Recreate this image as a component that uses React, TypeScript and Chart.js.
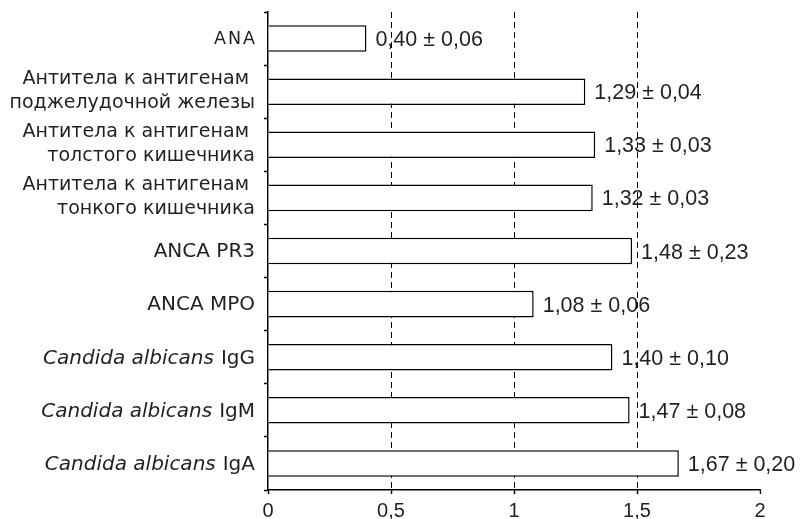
import React, { useEffect, useRef } from 'react';
import { Chart, registerables } from 'chart.js';

Chart.register(...registerables);

const categories: string[][] = [
  ['ANA'],
  ['Антитела к антигенам ', 'поджелудочной железы'],
  ['Антитела к антигенам ', 'толстого кишечника'],
  ['Антитела к антигенам ', 'тонкого кишечника'],
  ['ANCA PR3'],
  ['ANCA MPO'],
  ['Candida albicans IgG'],
  ['Candida albicans IgM'],
  ['Candida albicans IgA'],
];
const values = [0.4, 1.29, 1.33, 1.32, 1.48, 1.08, 1.4, 1.47, 1.67];
const errors = [0.06, 0.04, 0.03, 0.03, 0.23, 0.06, 0.1, 0.08, 0.2];
const xMin = 0;
const xMax = 2;
const xStep = 0.5;
const dashedAt = [0.5, 1, 1.5];
const italicPrefix = 'Candida albicans';

const TEXT = '#231f20';
const SANS = '"Liberation Sans", Arial, sans-serif';
const WIDE = '"DejaVu Sans", sans-serif';
const fmt = (n: number) => n.toFixed(2).replace('.', ',');

const labelPlugin = {
  id: 'customLabels',
  afterDatasetsDraw(chart: any) {
    const ctx = chart.ctx as CanvasRenderingContext2D;
    const ys = chart.scales.y;
    const xs = chart.scales.x;
    ctx.save();
    ctx.fillStyle = TEXT;
    ctx.textBaseline = 'alphabetic';

    // value labels
    ctx.font = `21.5px ${SANS}`;
    ctx.textAlign = 'left';
    values.forEach((v, i) => {
      const cy = ys.getPixelForValue(i);
      const xe = xs.getPixelForValue(v);
      ctx.fillText(`${fmt(v)} ± ${fmt(errors[i])}`, xe + 9, cy + 7.5);
    });

    // category labels
    const right = ys.right - 13;
    categories.forEach((lines, i) => {
      const cy = ys.getPixelForValue(i);
      ctx.textAlign = 'right';
      if (lines.length === 2) {
        ctx.font = `19px ${WIDE}`;
        ctx.fillText(lines[0], right, cy - 7.5);
        ctx.fillText(lines[1], right, cy + 16.5);
      } else if (lines[0] === 'ANA') {
        ctx.font = `17.5px ${WIDE}`;
        (ctx as any).letterSpacing = '2px';
        ctx.fillText(lines[0], right + 2, cy + 5.5);
        (ctx as any).letterSpacing = '0px';
      } else if (lines[0].startsWith(italicPrefix)) {
        const rest = lines[0].slice(italicPrefix.length).trim();
        ctx.font = `20px ${WIDE}`;
        const w = ctx.measureText(rest).width;
        ctx.fillText(rest, right, cy + 6.5);
        ctx.font = `italic 20px ${WIDE}`;
        ctx.fillText(italicPrefix, right - w - 7, cy + 6.5);
      } else {
        ctx.font = `20px ${WIDE}`;
        ctx.fillText(lines[0], right, cy + 6);
      }
    });
    ctx.restore();
  },
};

export default function App() {
  const ref = useRef<HTMLCanvasElement | null>(null);
  useEffect(() => {
    if (!ref.current) return;
    const chart = new Chart(ref.current, {
      type: 'bar',
      data: {
        labels: categories.map((c) => c.join(' ')),
        datasets: [
          {
            data: values,
            backgroundColor: '#ffffff',
            borderColor: '#000000',
            borderWidth: 1.5,
            barPercentage: 0.5,
            categoryPercentage: 1,
          },
        ],
      },
      options: {
        indexAxis: 'y',
        responsive: false,
        animation: false,
        layout: { padding: { top: 12, right: 41, left: 0, bottom: 0 } },
        plugins: { legend: { display: false }, tooltip: { enabled: false } },
        scales: {
          x: {
            type: 'linear',
            min: xMin,
            max: xMax,
            ticks: {
              stepSize: xStep,
              color: TEXT,
              font: { family: SANS, size: 20 },
              padding: 5,
              maxRotation: 0,
              callback: (v: any) => String(v).replace('.', ','),
            },
            grid: {
              color: (c: any) =>
                c.tick && dashedAt.includes(c.tick.value) ? '#000000' : 'rgba(0,0,0,0)',
              lineWidth: 1,
              tickColor: '#000000',
              tickLength: 4,
              tickWidth: 1.5,
            },
            border: { display: true, color: '#000000', width: 1.5, dash: [6, 4] },
            afterFit: (s: any) => {
              s.height = 29;
            },
          },
          y: {
            type: 'category',
            ticks: { display: false },
            grid: {
              drawOnChartArea: false,
              offset: true,
              tickColor: '#000000',
              tickLength: 4,
              tickWidth: 1.5,
            },
            border: { display: true, color: '#000000', width: 1.5 },
            afterFit: (s: any) => {
              s.width = 268;
            },
          },
        },
      } as any,
      plugins: [labelPlugin],
    });
    return () => chart.destroy();
  }, []);
  return (
    <div style={{ position: 'fixed', left: 0, top: 0, width: 801, height: 519, background: '#fff' }}>
      <canvas ref={ref} width={801} height={519} />
    </div>
  );
}
